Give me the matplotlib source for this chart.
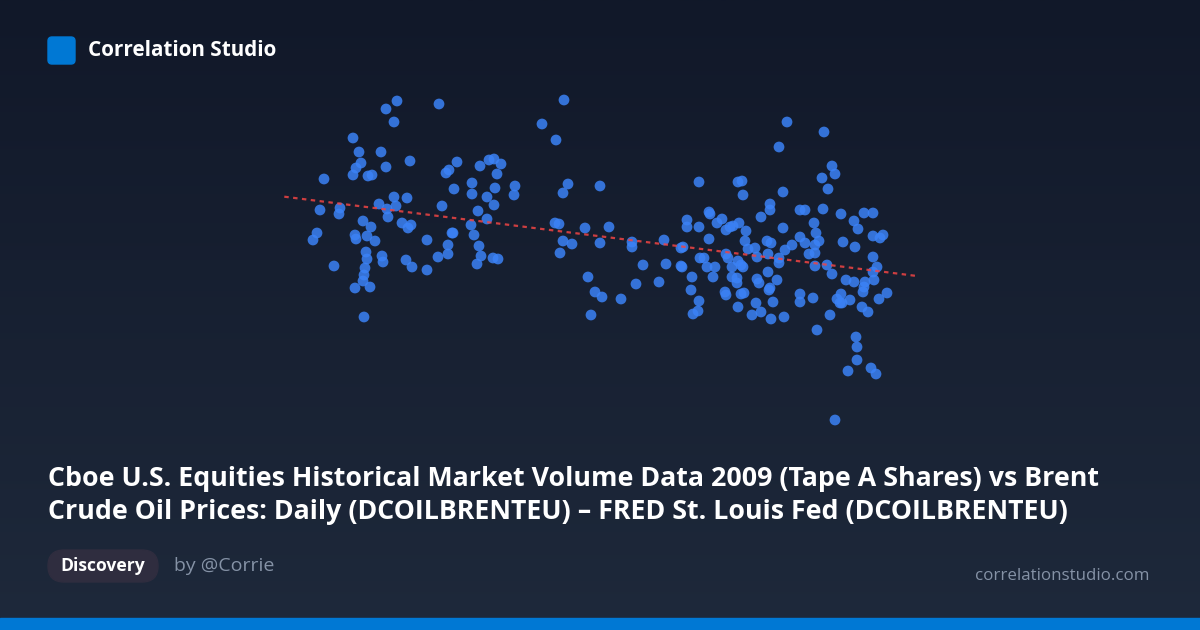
import numpy as np
import matplotlib
matplotlib.use("Agg")
import matplotlib.pyplot as plt
from matplotlib.patches import FancyBboxPatch, Rectangle

plt.rcParams['font.family'] = ['Open Sans', 'DejaVu Sans']

# Canvas size in pixels
W, H = 1200, 630

# Scatter values (x = equity volume, y = Brent price, screen units)
volume = [
    397, 386, 439, 394, 353, 359, 381, 361, 410, 457, 356, 353, 368, 372, 386, 324,
    446, 449, 480, 489, 494, 501, 497, 472, 454, 472, 495, 515, 514, 487, 494, 478,
    487, 471, 442, 394, 407, 379, 396, 387, 388, 320, 340, 339, 363, 371, 402, 411,
    408, 317, 313, 355, 356, 367, 375, 427, 452, 453, 448, 448, 438, 474, 479, 481,
    477, 493, 498, 366, 367, 382, 383, 406, 412, 427, 334, 365, 364, 363, 355, 370,
    364,
    564, 542, 556, 568, 563, 600, 699, 555, 559, 563, 572, 560, 585, 609, 600, 632,
    632, 664, 681, 687, 687, 699, 709, 710, 717, 709, 643, 666, 681, 682, 700, 704,
    707, 715, 713, 692, 691, 699, 698, 693, 588, 595, 602, 621, 636, 659, 591,
    787, 779, 738, 742, 743, 783, 770, 770, 761, 800, 722, 726, 733, 730, 739, 746,
    783, 745, 767, 771, 792, 785, 800, 748, 755, 757, 768, 779, 779, 683, 726, 728,
    738, 741, 743, 732, 732, 737, 737, 757, 759, 768, 777, 770, 769, 725, 726, 741,
    744, 773, 756, 738, 761, 752, 771, 784, 800, 800,
    824, 832, 835, 822, 828, 805, 823, 841, 864, 873, 854, 858, 814, 816, 819, 815,
    805, 809, 815, 843, 855, 873, 880, 883, 873, 877, 873, 874, 815, 827, 832, 846,
    854, 865, 864, 863, 879, 887, 813, 841, 837, 840, 842, 850, 862, 868, 830, 817,
    856, 857, 857, 848, 871, 876, 835,
]
brent = [
    101, 109, 104, 122, 138, 152, 152, 163, 161, 162, 168, 175, 176, 175, 167, 179,
    173, 170, 166, 160, 159, 164, 174, 183, 189, 194, 188, 186, 195, 197, 205, 211,
    219, 225, 206, 197, 198, 204, 206, 209, 217, 210, 208, 214, 221, 227, 223, 225,
    228, 233, 240, 235, 239, 236, 241, 240, 233, 233, 245, 254, 257, 235, 246, 256,
    264, 258, 259, 252, 259, 256, 262, 260, 267, 270, 266, 268, 275, 281, 288, 287,
    317,
    100, 124, 140, 184, 193, 186, 182, 223, 224, 241, 244, 253, 228, 227, 243, 242,
    247, 240, 248, 220, 227, 227, 212, 214, 223, 239, 265, 264, 266, 267, 258, 258,
    267, 267, 277, 277, 290, 301, 311, 314, 277, 292, 297, 299, 284, 282, 315,
    122, 147, 182, 181, 195, 192, 204, 210, 217, 210, 219, 230, 226, 227, 223, 231,
    228, 241, 241, 243, 245, 250, 237, 249, 248, 257, 254, 258, 263, 247, 254, 258,
    261, 265, 267, 267, 277, 278, 283, 279, 283, 272, 280, 288, 290, 292, 295, 294,
    293, 302, 303, 307, 312, 315, 319, 317, 294, 302,
    132, 166, 174, 178, 189, 210, 209, 214, 213, 213, 221, 229, 223, 233, 241, 245,
    243, 254, 253, 242, 247, 236, 238, 235, 257, 267, 272, 280, 266, 265, 274, 280,
    282, 282, 287, 292, 299, 293, 298, 294, 299, 303, 303, 300, 307, 312, 315, 330,
    337, 347, 360, 371, 368, 374, 420,
]

title_lines = [
    "Cboe U.S. Equities Historical Market Volume Data 2009 (Tape A Shares) vs Brent",
    "Crude Oil Prices: Daily (DCOILBRENTEU) \u2013 FRED St. Louis Fed (DCOILBRENTEU)",
]
brand = "Correlation Studio"
tag = "Discovery"
author = "by @Corrie"
site = "correlationstudio.com"

fig = plt.figure(figsize=(12, 6.3), dpi=100)

# background gradient
bg = fig.add_axes([0, 0, 1, 1])
bg.set_axis_off()
grad = np.linspace(0, 1, 256).reshape(-1, 1)
top = np.array([0x11, 0x18, 0x29]) / 255
bot = np.array([0x1e, 0x29, 0x3b]) / 255
img = top + (bot - top) * grad[..., None]
bg.imshow(img, aspect='auto', extent=[0, W, H, 0])
bg.set_xlim(0, W)
bg.set_ylim(H, 0)

# scatter + trend line
ax = fig.add_axes([0, 0, 1, 1])
ax.set_axis_off()
ax.set_xlim(0, W)
ax.set_ylim(H, 0)
x = np.array(volume, dtype=float)
y = np.array(brent, dtype=float)
ax.scatter(x, y, s=60, color='#3b82f6', alpha=0.85, edgecolors='none', zorder=3)
k, c = np.polyfit(x, y, 1)
pad = (x.max() - x.min()) * 0.05
xs = np.array([x.min() - pad, x.max() + pad])
ax.plot(xs, k * xs + c, color='#ef4444', lw=1.6, ls=(0, (2, 2)), alpha=0.85, zorder=4)

# header
ax.add_patch(FancyBboxPatch((48, 37), 27, 27, boxstyle='round,pad=0,rounding_size=4',
                            color='#0078d4', zorder=5))
ax.text(88, 51, brand, color='white', fontsize=14.9, fontweight='bold', va='center', ha='left')

# title
ax.text(48, 479, title_lines[0], color='white', fontsize=19.3, fontweight='bold', va='center')
ax.text(48, 512, title_lines[1], color='white', fontsize=19.3, fontweight='bold', va='center')

# footer
ax.add_patch(FancyBboxPatch((48, 550), 110, 32, boxstyle='round,pad=0,rounding_size=16',
                            color='#2f2d3f', zorder=5))
ax.text(103, 566, tag, color='white', fontsize=12.6, fontweight='bold', va='center', ha='center', zorder=6)
ax.text(174, 566, author, color='#8592a6', fontsize=14, va='center', ha='left')
ax.text(1150, 576, site, color='#8592a6', fontsize=12.2, va='center', ha='right')
ax.add_patch(Rectangle((0, 618), W, 12, color='#0078d4', zorder=5))

fig.savefig('out.png', dpi=100)
